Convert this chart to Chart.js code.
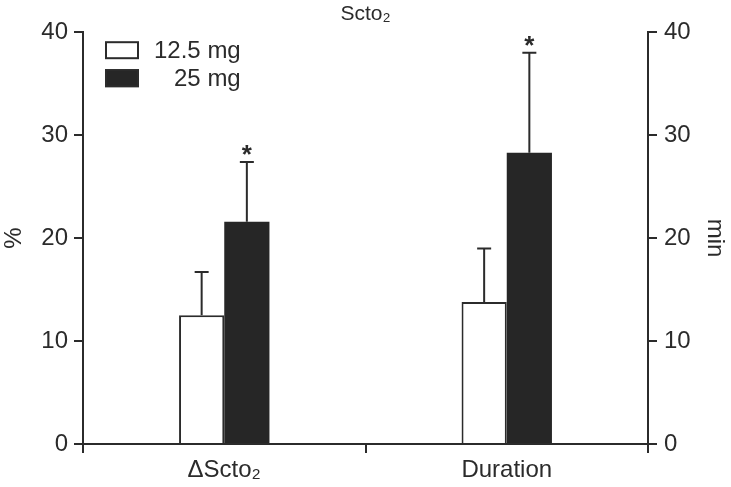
<!DOCTYPE html>
<html>
<head>
<meta charset="utf-8">
<script src="https://cdn.jsdelivr.net/npm/chart.js@4.4.1/dist/chart.umd.min.js"></script>
<style>
  html, body { margin: 0; padding: 0; background: #fff; }
  #wrap { width: 731px; height: 487px; }
</style>
</head>
<body>
<div id="wrap"><canvas id="myChart" width="731" height="487"></canvas></div>
<script>
// chart data
var categories = ['\u0394Scto\u2082', 'Duration'];
var dose125 = [12.5, 13.8];
var dose125Err = [4.2, 5.2];
var dose25 = [21.6, 28.3];
var dose25Err = [5.8, 9.7];
var dose25Star = [true, true];

var ink = '#2b2b2b';
var fontFam = '"Liberation Sans", Arial, sans-serif';

// error bars + asterisks, drawn on top of the bars
var errorBars = {
  id: 'errorBars',
  afterDatasetsDraw: function(chart) {
    var c = chart.ctx;
    var yScale = chart.scales.y;
    var errs = [dose125Err, dose25Err];
    c.save();
    c.strokeStyle = ink;
    c.lineWidth = 2;
    chart.data.datasets.forEach(function(ds, i) {
      var meta = chart.getDatasetMeta(i);
      meta.data.forEach(function(bar, j) {
        var top = yScale.getPixelForValue(ds.data[j] + errs[i][j]);
        c.beginPath();
        c.moveTo(bar.x, bar.y);
        c.lineTo(bar.x, top);
        c.moveTo(bar.x - 7, top);
        c.lineTo(bar.x + 7, top);
        c.stroke();
        if (i === 1 && dose25Star[j]) {
          c.fillStyle = ink;
          c.font = 'bold 26px ' + fontFam;
          c.textAlign = 'center';
          c.textBaseline = 'alphabetic';
          c.fillText('*', bar.x, top + 1);
        }
      });
    });
    c.restore();
  }
};

// legend in the top-left corner of the plot
var cornerLegend = {
  id: 'cornerLegend',
  afterDraw: function(chart) {
    var c = chart.ctx;
    var area = chart.chartArea;
    var x = area.left + 22;
    var y = area.top + 9;
    c.save();
    c.font = '24px ' + fontFam;
    var textRight = x + 49 + c.measureText(chart.data.datasets[0].label).width;
    chart.data.datasets.forEach(function(ds, i) {
      var by = y + i * 28;
      c.fillStyle = ds.backgroundColor;
      c.fillRect(x, by, 34, 18);
      c.strokeStyle = ink;
      c.lineWidth = 2;
      c.strokeRect(x + 1, by + 1, 32, 16);
      c.fillStyle = ink;
      c.textAlign = 'right';
      c.textBaseline = 'middle';
      c.fillText(ds.label, textRight, by + 10);
    });
    c.restore();
  }
};

var canvas = document.getElementById('myChart');
var ctx = canvas.getContext('2d');

var myChart = new Chart(ctx, {
  type: 'bar',
  data: {
    labels: categories,
    datasets: [{
      label: '12.5 mg',
      data: dose125,
      backgroundColor: '#ffffff',
      borderColor: ink,
      borderWidth: 2,
      yAxisID: 'y'
    }, {
      label: '25 mg',
      data: dose25,
      backgroundColor: '#262626',
      borderColor: '#262626',
      borderWidth: 0,
      yAxisID: 'y'
    }]
  },
  options: {
    responsive: false,
    animation: false,
    layout: { padding: 0 },
    categoryPercentage: 0.32,
    barPercentage: 1.0,
    plugins: {
      legend: { display: false },
      tooltip: { enabled: false },
      title: {
        display: true,
        text: 'Scto\u2082',
        color: ink,
        font: { family: fontFam, size: 21, weight: 'normal' },
        padding: { top: 2, bottom: 5 }
      }
    },
    scales: {
      x: {
        offset: true,
        border: { color: ink, width: 2 },
        grid: { display: true, drawOnChartArea: false, drawTicks: true, tickLength: 9, color: ink, lineWidth: 2 },
        ticks: { color: ink, padding: 3, font: { family: fontFam, size: 24 } },
        afterFit: function(scale) { scale.height = 43; }
      },
      y: {
        position: 'left',
        min: 0,
        max: 40,
        border: { color: ink, width: 2 },
        grid: { drawOnChartArea: false, tickLength: 9, color: ink, lineWidth: 2 },
        ticks: { stepSize: 10, color: ink, padding: 6, font: { family: fontFam, size: 24 } },
        title: { display: true, text: '%', color: ink, padding: 0, font: { family: fontFam, size: 24 } },
        afterFit: function(scale) { scale.width = 83; }
      },
      y1: {
        position: 'right',
        min: 0,
        max: 40,
        border: { color: ink, width: 2 },
        grid: { drawOnChartArea: false, tickLength: 9, color: ink, lineWidth: 2 },
        ticks: { stepSize: 10, color: ink, padding: 7, font: { family: fontFam, size: 24 } },
        title: { display: true, text: 'min', color: ink, padding: 2, font: { family: fontFam, size: 24 } },
        afterFit: function(scale) { scale.width = 83; }
      }
    }
  },
  plugins: [errorBars, cornerLegend]
});
</script>
</body>
</html>
